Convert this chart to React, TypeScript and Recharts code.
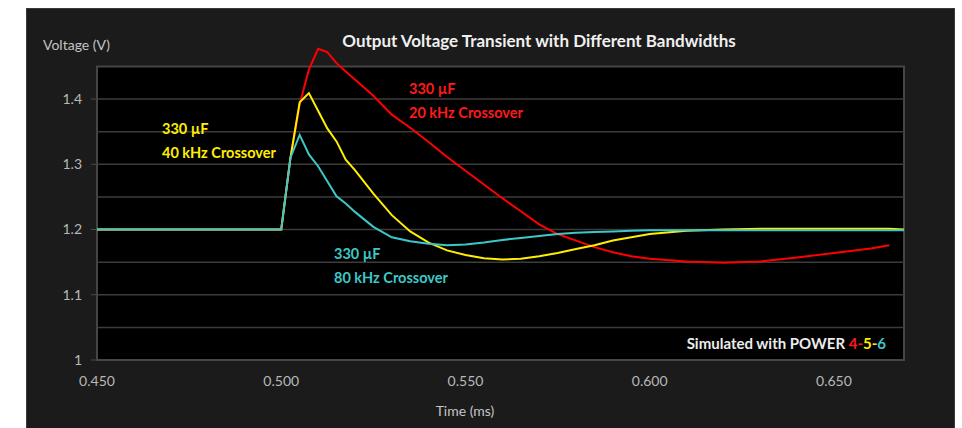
import { LineChart, Line, XAxis, YAxis, ReferenceArea, ReferenceLine } from "recharts";

const times = [
  0.45, 0.5, 0.5025, 0.505, 0.5075, 0.51, 0.5125, 0.515, 0.5175, 0.52, 0.525, 0.53, 0.535, 0.54, 0.545, 0.55,
  0.555, 0.56, 0.565, 0.57, 0.575, 0.58, 0.585, 0.59, 0.595, 0.6, 0.61, 0.62, 0.63, 0.64, 0.65, 0.66, 0.665, 0.669,
];

// 330 uF, 20 kHz crossover
const red = [
  1.2, 1.2, 1.31, 1.392, 1.445, 1.477, 1.472, 1.455, 1.442, 1.43, 1.405, 1.376, 1.356, 1.334, 1.311, 1.29,
  1.269, 1.248, 1.228, 1.208, 1.193, 1.183, 1.173, 1.165, 1.159, 1.155, 1.151, 1.149, 1.151, 1.157, 1.164, 1.171, 1.176, null,
];

// 330 uF, 40 kHz crossover
const yellow = [
  1.2, 1.2, 1.31, 1.395, 1.409, 1.382, 1.355, 1.335, 1.307, 1.291, 1.255, 1.222, 1.197, 1.18, 1.168, 1.161,
  1.156, 1.154, 1.155, 1.159, 1.164, 1.17, 1.176, 1.183, 1.188, 1.193, 1.198, 1.2, 1.201, 1.201, 1.201, 1.201, 1.201, 1.2,
];

// 330 uF, 80 kHz crossover
const cyan = [
  1.2, 1.2, 1.31, 1.345, 1.315, 1.297, 1.274, 1.251, 1.24, 1.227, 1.204, 1.188, 1.182, 1.178, 1.176, 1.177,
  1.18, 1.184, 1.187, 1.19, 1.193, 1.195, 1.196, 1.197, 1.198, 1.199, 1.199, 1.199, 1.199, 1.199, 1.199, 1.199, 1.199, 1.199,
];

const xTicks = [0.45, 0.5, 0.55, 0.6, 0.65];
const yTicks = [1, 1.1, 1.2, 1.3, 1.4];
const gridLines = [1.05, 1.1, 1.15, 1.2, 1.25, 1.3, 1.35, 1.4];

const data = times.map((t, i) => ({ t, red: red[i], yellow: yellow[i], cyan: cyan[i] }));

const font = "Lato, 'Open Sans', sans-serif";

export default function App() {
  return (
    <div style={{ position: "absolute", left: 0, top: 0, width: 962, height: 428, background: "#fff", fontFamily: font }}>
      <div
        style={{
          position: "absolute",
          left: 26,
          top: 8,
          width: 929,
          height: 420,
          background: "#1b1b1b",
          boxShadow: "inset 0 1px 0 #3a3a3a, inset 1px 0 0 #3a3a3a, inset -1px 0 0 #3a3a3a",
        }}
      />
      <div style={{ position: "absolute", left: 0, top: 0 }}>
        <LineChart width={962} height={428} data={data} margin={{ top: 33.75, right: 58, bottom: 38, left: 37 }}>
          <XAxis
            dataKey="t"
            type="number"
            domain={[0.45, 0.669]}
            ticks={xTicks}
            tickFormatter={(v: number) => v.toFixed(3)}
            axisLine={false}
            tickLine={false}
            tickSize={0}
            tickMargin={16}
            height={30}
            tick={{ fill: "#b8b8b8", fontSize: 14, fontFamily: font }}
          />
          <YAxis
            type="number"
            domain={[1, 1.5]}
            allowDataOverflow
            ticks={yTicks}
            width={60}
            axisLine={false}
            tickLine={{ stroke: "#4a4a4a" }}
            tickSize={6}
            tickMargin={9}
            tick={{ fill: "#b8b8b8", fontSize: 14, fontFamily: font }}
          />
          <ReferenceArea x1={0.45} x2={0.669} y1={1} y2={1.45} fill="#000" fillOpacity={1} stroke="#454545" strokeWidth={2} />
          {gridLines.map((g) => (
            <ReferenceLine key={g} y={g} stroke="#3c3c3c" strokeWidth={1.5} />
          ))}
          <Line dataKey="red" type="linear" stroke="#ff0000" strokeWidth={2} dot={false} isAnimationActive={false} />
          <Line dataKey="yellow" type="linear" stroke="#ffee00" strokeWidth={2} dot={false} isAnimationActive={false} />
          <Line dataKey="cyan" type="linear" stroke="#3cc8c8" strokeWidth={2} dot={false} isAnimationActive={false} />
        </LineChart>
      </div>
      <svg width={962} height={428} style={{ position: "absolute", left: 0, top: 0, pointerEvents: "none" }} fontFamily={font}>
        <text x={539} y={40} textAnchor="middle" dominantBaseline="central" fontSize={17} fontWeight={700} fill="#f0f0f0">
          Output Voltage Transient with Different Bandwidths
        </text>
        <text x={43} y={44} dominantBaseline="central" fontSize={14} fill="#c4c4c4">
          Voltage (V)
        </text>
        <text x={465} y={410} textAnchor="middle" dominantBaseline="central" fontSize={14} fill="#c4c4c4">
          Time (ms)
        </text>
        <g fontSize={14.5} fontWeight={700}>
          <text x={409} y={88} dominantBaseline="central" fill="#ff1a1a">330 µF</text>
          <text x={409} y={112} dominantBaseline="central" fill="#ff1a1a">20 kHz Crossover</text>
          <text x={162} y={128} dominantBaseline="central" fill="#ffee00">330 µF</text>
          <text x={162} y={152} dominantBaseline="central" fill="#ffee00">40 kHz Crossover</text>
          <text x={334} y={253} dominantBaseline="central" fill="#3cc8c8">330 µF</text>
          <text x={334} y={277} dominantBaseline="central" fill="#3cc8c8">80 kHz Crossover</text>
        </g>
        <text x={886} y={343} textAnchor="end" dominantBaseline="central" fontSize={15} fontWeight={700} fill="#ececec">
          Simulated with POWER <tspan fill="#ff1a1a">4-</tspan>
          <tspan fill="#ffee00">5-</tspan>
          <tspan fill="#3cc8c8">6</tspan>
        </text>
      </svg>
    </div>
  );
}
